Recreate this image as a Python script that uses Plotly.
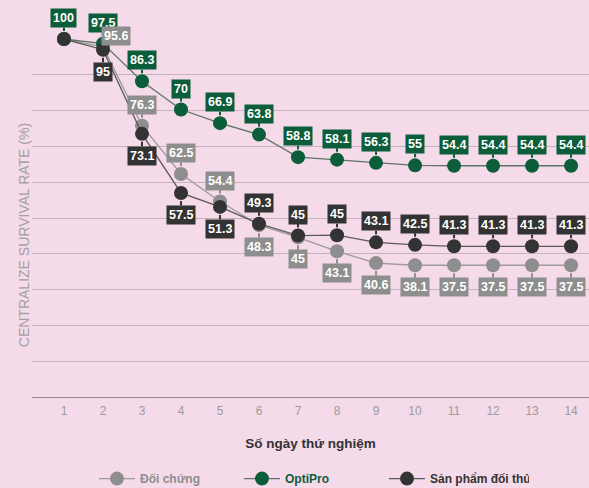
import plotly.graph_objects as go

# ---- data -------------------------------------------------------------
days = list(range(1, 15))
series_names = ["Đối chứng", "OptiPro", "Sản phẩm đối thủ"]

# values printed in the labels
doi_chung_labels = [100, 95.6, 76.3, 62.5, 54.4, 48.3, 45, 43.1, 40.6, 38.1, 37.5, 37.5, 37.5, 37.5]
optipro_labels = [100, 97.5, 86.3, 70, 66.9, 63.8, 58.8, 58.1, 56.3, 55, 54.4, 54.4, 54.4, 54.4]
doi_thu_labels = [100, 95, 73.1, 57.5, 51.3, 49.3, 45, 45, 43.1, 42.5, 41.3, 41.3, 41.3, 41.3]

# positions of the points as read against the gridlines of the picture
doi_chung_pos = [100, 97.8, 75.8, 62.3, 54.6, 48.0, 44.6, 40.7, 37.4, 36.8, 36.8, 36.8, 36.8, 36.8]
optipro_pos = [100, 98.7, 88.2, 80.3, 76.5, 73.3, 67.0, 66.3, 65.4, 64.7, 64.6, 64.6, 64.6, 64.6]
doi_thu_pos = [100, 97.0, 73.5, 57.0, 53.1, 48.4, 45.1, 45.2, 43.2, 42.5, 42.1, 42.1, 42.1, 42.1]

# label side: -1 above, +1 below, 0 = none
doi_chung_side = [0, -1, -1, -1, -1, 1, 1, 1, 1, 1, 1, 1, 1, 1]
optipro_side = [-1] * 14
doi_thu_side = [0, 1, 1, 1, 1, -1, -1, -1, -1, -1, -1, -1, -1, -1]

x_title = "Số ngày thứ nghiệm"
y_title = "CENTRALIZE SURVIVAL RATE (%)"

# ---- style ------------------------------------------------------------
BG = "#f5dae9"
GRID = "#c6b3c0"
FONT = "Liberation Sans, Arial, sans-serif"
colors = {"gray": "#8e8e8e", "green": "#0c5d39", "dark": "#333333"}
line_colors = {"gray": "#9d9a9c", "green": "#5d7466", "dark": "#5a5a5a"}

series = [
    (series_names[0], doi_chung_pos, doi_chung_labels, doi_chung_side, "gray"),
    (series_names[1], optipro_pos, optipro_labels, optipro_side, "green"),
    (series_names[2], doi_thu_pos, doi_thu_labels, doi_thu_side, "dark"),
]

fig = go.Figure()
for name, pos, labs, side, key in series:
    fig.add_trace(go.Scatter(
        x=days, y=pos, mode="lines+markers",
        name=f"<b><span style='color:{colors[key]}'>{name}</span></b>",
        line=dict(color=line_colors[key], width=1.3),
        marker=dict(color=colors[key], size=14),
        cliponaxis=False, hoverinfo="skip",
    ))

annotations = []
order = [series[1], series[0], series[2]]
for name, pos, labs, side, key in order:
    for d, p, v, s in zip(days, pos, labs, side):
        if s == 0:
            continue
        txt = f"<b>{v:g}</b>"
        if key == "gray" and d == 2:
            annotations.append(dict(
                x=d, y=p, xref="x", yref="y", text=txt, showarrow=False,
                xshift=13, yshift=11, bgcolor=colors[key], borderpad=2,
                font=dict(color="white", size=12.5, family=FONT)))
            continue
        annotations.append(dict(
            x=d, y=p, xref="x", yref="y", text=txt, showarrow=True,
            ax=0, ay=21 * s if s < 0 else 22, arrowhead=0, arrowwidth=2,
            arrowcolor=colors[key], standoff=8, bgcolor=colors[key],
            borderpad=2, font=dict(color="white", size=12.5, family=FONT)))

annotations.append(dict(
    x=-0.0323, y=0.452, xref="paper", yref="paper", text=y_title,
    showarrow=False, textangle=-90, font=dict(color="#a3a0a2", size=14, family=FONT)))

fig.update_layout(
    width=589, height=488,
    margin=dict(l=32, r=0, t=39, b=91, autoexpand=False),
    paper_bgcolor=BG, plot_bgcolor=BG,
    font=dict(family=FONT),
    showlegend=True,
    legend=dict(orientation="h", x=0.1113, xanchor="left", y=-0.228, yanchor="middle",
                entrywidth=94, itemwidth=36, font=dict(size=12, family=FONT),
                bgcolor="rgba(0,0,0,0)"),
    annotations=annotations,
    xaxis=dict(range=[0.18, 14.46], tickmode="array", tickvals=days,
               ticktext=[str(d) for d in days], showgrid=False, zeroline=False,
               showline=True, linecolor="#8d8a8c", linewidth=1,
               ticks="outside", ticklen=3, tickcolor="rgba(0,0,0,0)",
               tickfont=dict(color="#9c9a9b", size=12, family=FONT),
               title=dict(text=x_title, standoff=21,
                          font=dict(color="#333333", size=13.5, family=FONT, weight="bold"))),
    yaxis=dict(range=[0, 100], dtick=10, showgrid=True, gridcolor=GRID, gridwidth=1,
               zeroline=False, showticklabels=False, fixedrange=True),
)

fig.write_html(
    "out.html",
    config={"displayModeBar": False},
    post_script=f"document.body.style.margin='0';document.body.style.background='{BG}';document.body.style.overflow='hidden';",
)
